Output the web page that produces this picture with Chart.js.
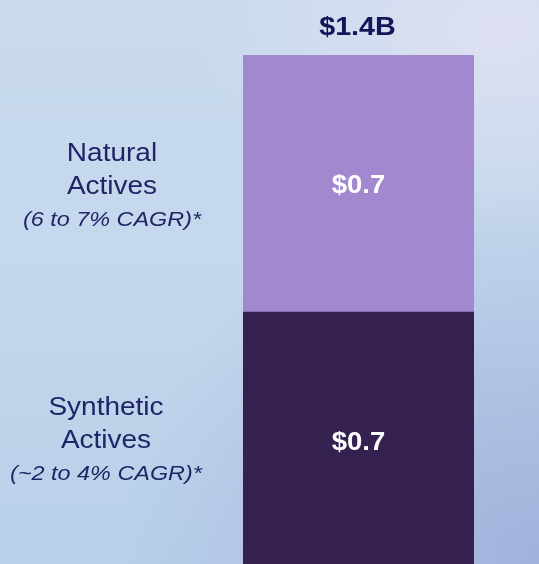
<!DOCTYPE html>
<html>
<head>
<meta charset="utf-8">
<script src="https://cdn.jsdelivr.net/npm/chart.js@4.4.1/dist/chart.umd.min.js"></script>
<style>
  html, body { margin: 0; padding: 0; }
  body {
    width: 539px; height: 564px; overflow: hidden;
    background:
      radial-gradient(ellipse 420px 380px at 540px 560px, rgba(160,174,218,0.9), rgba(160,174,218,0) 100%),
      radial-gradient(ellipse 300px 200px at 500px 30px, rgba(226,226,242,0.8), rgba(226,226,242,0) 100%),
      linear-gradient(180deg, #c9daee 0%, #c4d7ec 50%, #b8d0e9 100%);
  }
  #wrap { position: relative; width: 539px; height: 564px; }
</style>
</head>
<body>
<div id="wrap"><canvas id="MarketBar" width="539" height="564"></canvas></div>
<script>
// chart data
var categories = ['Total'];
var segmentNames = ['Synthetic Actives', 'Natural Actives'];
var segmentNotes = ['(~2 to 4% CAGR)*', '(6 to 7% CAGR)*'];
var segmentValues = [0.7, 0.7];
var totalLabel = '$1.4B';

var colors = ['#352150', '#a288cf'];

// draws stretched text (the original font is a bit wide)
function wideText(ctx, txt, x, y, sx) {
    ctx.save();
    ctx.translate(x, y);
    ctx.scale(sx, 1);
    ctx.fillText(txt, 0, 0);
    ctx.restore();
}

var labelPlugin = {
    id: 'labelPlugin',
    afterDatasetsDraw: function (chart) {
        var ctx = chart.ctx;
        ctx.save();
        ctx.textAlign = 'center';
        ctx.textBaseline = 'middle';
        var topY = null, barX = 0;
        var leftX = [106, 112];   // centre of the left hand labels
        var shiftY = [1, 4];
        chart.data.datasets.forEach(function (ds, i) {
            var bar = chart.getDatasetMeta(i).data[0];
            var bottom = Math.min(bar.base, chart.chartArea.bottom + 5);
            var mid = (bar.y + bottom) / 2;
            barX = bar.x;
            if (topY === null || bar.y < topY) topY = bar.y;

            // value inside the segment
            ctx.fillStyle = '#ffffff';
            ctx.font = 'bold 25px "Liberation Sans", Arial, sans-serif';
            wideText(ctx, '$' + ds.data[0].toFixed(1), bar.x, mid + 3, 1.1);

            // name + CAGR on the left
            var words = segmentNames[i].split(' ');
            var m = mid + shiftY[i];
            ctx.fillStyle = '#1f2566';
            ctx.font = '25px "Liberation Sans", Arial, sans-serif';
            wideText(ctx, words[0], leftX[i], m - 33, 1.12);
            wideText(ctx, words[1], leftX[i], m, 1.12);
            ctx.font = 'italic 20px "Liberation Sans", Arial, sans-serif';
            wideText(ctx, segmentNotes[i], leftX[i], m + 33, 1.17);
        });
        // total on top
        ctx.fillStyle = '#14165a';
        ctx.font = 'bold 25px "Liberation Sans", Arial, sans-serif';
        wideText(ctx, totalLabel, barX - 1, topY - 27, 1.15);
        ctx.restore();
    }
};

var datasets = [];
for (var i = 0; i < segmentValues.length; i++) {
    datasets.push({
        label: segmentNames[i],
        data: [segmentValues[i]],
        backgroundColor: colors[i],
        borderWidth: 0,
        barPercentage: 1,
        categoryPercentage: 1
    });
}

var ctx = document.getElementById('MarketBar');
var BarGraph = new Chart(ctx, {
    type: 'bar',
    data: { labels: categories, datasets: datasets },
    options: {
        responsive: false,
        animation: false,
        layout: { padding: { top: 55, left: 243, right: 65, bottom: 0 } },
        plugins: { legend: { display: false }, tooltip: { enabled: false } },
        scales: {
            x: { stacked: true, display: false },
            y: { stacked: true, display: false, min: 0.0136, max: 1.4 }
        }
    },
    plugins: [labelPlugin]
});
</script>
</body>
</html>
